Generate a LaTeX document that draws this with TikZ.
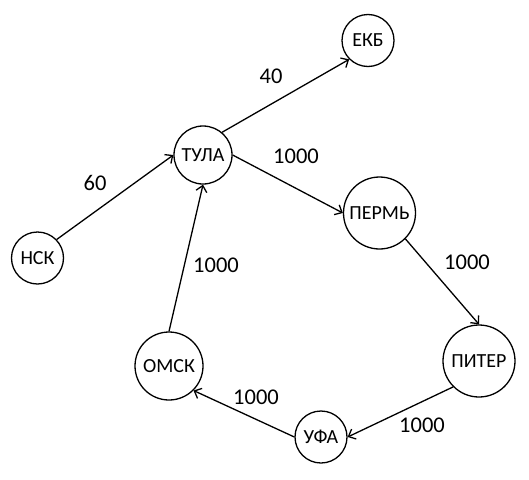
\documentclass[tikz,border=0pt]{standalone}
\usepackage{fontspec}
\setmainfont{Carlito}
\usetikzlibrary{arrows.meta}
\begin{document}
\begin{tikzpicture}[x=1pt,y=-1pt,
  city/.style={circle,draw,line width=1.3pt,inner sep=0pt,font=\fontsize{20}{23}\selectfont},
  edge/.style={line width=1.3pt,-{Straight Barb[length=6pt,width=11pt,line width=1.3pt]}},
  wlabel/.style={font=\fontsize{22.5}{26}\selectfont,inner sep=0pt}]
\useasboundingbox (0,0) rectangle (529,479);
\node[city,minimum size=52pt] (nsk) at (37.5,258) {НСК};
\node[city,minimum size=58pt] (tula) at (203,155) {ТУЛА};
\node[city,minimum size=52pt] (ekb) at (368,40.5) {ЕКБ};
\node[city,minimum size=72pt] (perm) at (379.5,213) {ПЕРМЬ};
\node[city,minimum size=72pt] (piter) at (479,361) {ПИТЕР};
\node[city,minimum size=52pt] (ufa) at (321,437) {УФА};
\node[city,minimum size=68pt] (omsk) at (169,366) {ОМСК};
\draw[edge] (nsk.44) -- (tula.west);
\draw[edge] (tula.50) -- (ekb.225);
\draw[edge] (tula.east) -- (perm.west);
\draw[edge] (perm.-45) -- (piter.north);
\draw[edge] (piter.225) -- (ufa.east);
\draw[edge] (ufa.west) -- (omsk.-45);
\draw[edge] (omsk.north) -- (tula.south);
\node[wlabel] (l1) at (95,183) {60};
\node[wlabel] (l2) at (271,76) {40};
\node[wlabel] (l3) at (296,156) {1000};
\node[wlabel] (l4) at (467,262) {1000};
\node[wlabel] (l5) at (422,425) {1000};
\node[wlabel] (l6) at (256,397) {1000};
\node[wlabel] (l7) at (216,265) {1000};
\end{tikzpicture}
\end{document}
